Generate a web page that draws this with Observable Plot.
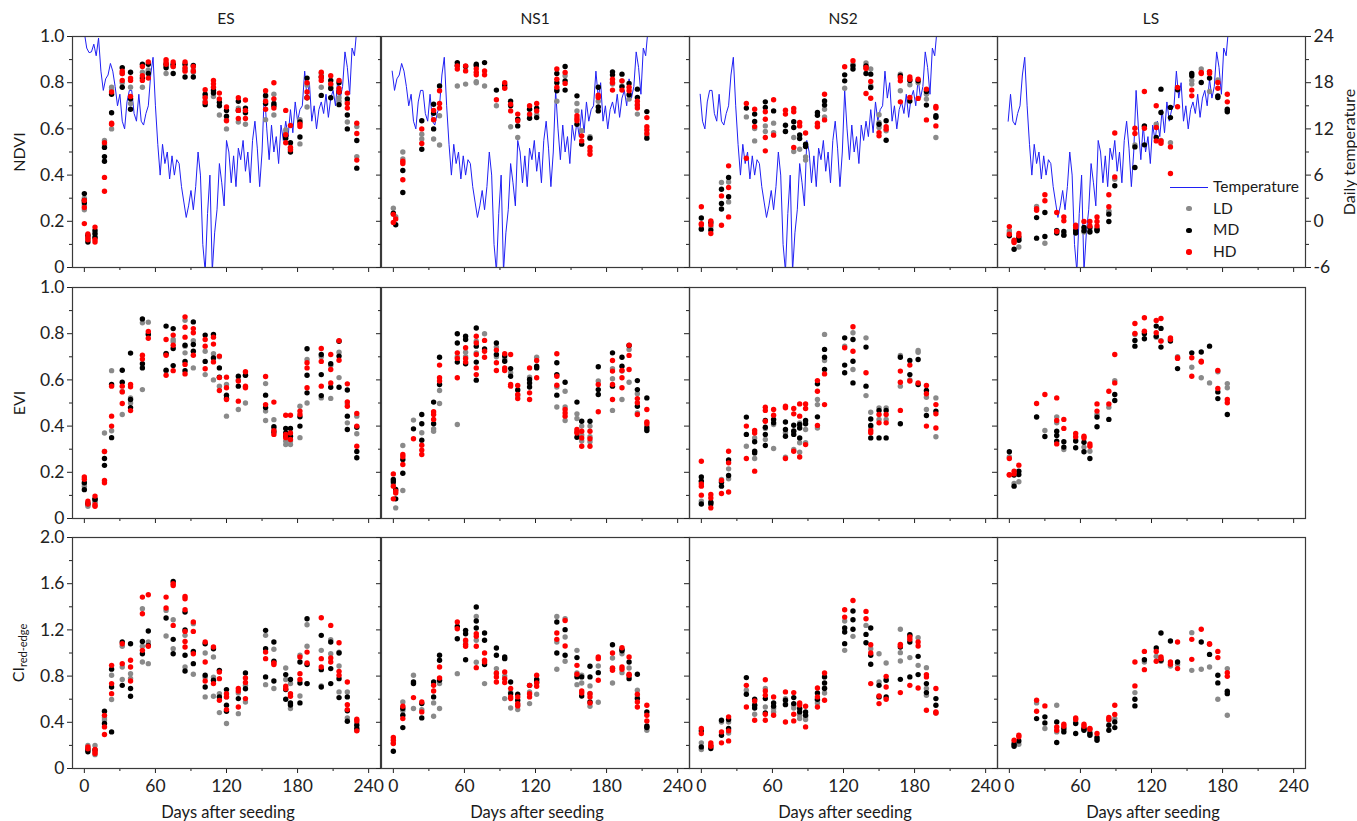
<!DOCTYPE html>
<html><head><meta charset="utf-8">
<script src="https://cdn.jsdelivr.net/npm/d3@7"></script>
<script src="https://cdn.jsdelivr.net/npm/@observablehq/plot@0.6"></script>
<style>
body{margin:0;background:#fff;font-family:Lato,"Open Sans",sans-serif;}
#wrap{position:relative;width:1357px;height:821px;overflow:hidden;background:#fff;}
.panel{position:absolute;width:408px;}
.lbl{position:absolute;color:#1a1a1a;white-space:nowrap;line-height:1;}
.lbl sub{font-size:11px;vertical-align:-3px;}
</style></head><body><div id="wrap"></div>
<script>
// ---------- data ----------
const SEASON_NAMES = ["ES","NS1","NS2","LS"];
const SEASON_OFFSET = [0,15,31,45]; // seeding offset (days) relative to ES for shared weather record
const DENSITY = ["LD","MD","HD"];

// daily temperature (°C) on ES calendar, every 2 days from day 0
const TEMP = [24.5,22.5,21.9,22.0,23.0,21.5,23.8,19.5,17.0,18.5,
19.0,20.5,19.5,17.5,15.0,16.5,13.0,12.0,15.5,17.0,
17.0,14.0,13.0,16.5,13.0,12.5,14.0,15.0,19.0,21.3,
15.0,10.0,6.0,10.0,7.5,9.0,5.5,8.5,6.0,8.0,
7.5,4.5,2.5,0.5,2.0,4.0,1.5,4.5,9.0,6.0,
-3.0,-6.5,1.0,6.0,-6.5,-1.5,1.5,7.5,5.0,2.0,
10.5,9.0,5.0,8.5,4.5,9.5,8.0,10.5,6.5,9.0,
5.0,10.5,13.0,9.5,4.5,9.0,17.0,12.0,8.0,12.5,
9.0,11.0,7.5,12.5,10.5,13.0,11.0,14.5,11.5,15.5,
13.0,14.5,15.0,19.5,16.0,18.0,13.0,15.0,12.0,14.5,
15.5,14.0,16.5,13.5,16.0,17.0,15.0,18.5,16.0,17.5,
22.0,20.0,16.5,22.5,21.5,25.0];
const TEMP_TICKS = [-6,0,6,12,18,24];

// ----- ES -----
const ES_days = [0,3,9,17,23,32,39,49,54,69,75,85,92,102,109,114,120,130,136,153,160,170,174,182,188,200,208,215,222,230];
const ES_NDVI_LD = [[0.30,0.25,0.27],[0.12,0.13],[0.15,0.13],[0.55,0.53],[0.78,0.60,0.77],[0.84,0.80],[0.78,0.71],[0.845,0.78],[0.85,0.855],[0.87,0.84],[0.87,0.875],[0.86,0.855],[0.845,0.855],[0.72,0.74],[0.74,0.77],[0.725,0.66],[0.60,0.64],[0.69,0.63],[0.62,0.68],[0.74,0.64],[0.75,0.66],[0.595,0.58],[0.52,0.51],[0.64,0.535],[0.79,0.695],[0.84,0.78],[0.79,0.78],[0.735,0.72],[0.72,0.63],[0.61,0.48]];
const ES_NDVI_MD = [[0.32,0.28,0.29],[0.11,0.14],[0.16,0.145,0.13],[0.52,0.48,0.46],[0.75,0.67],[0.865,0.78],[0.845,0.73,0.685],[0.88,0.82],[0.88,0.84],[0.88,0.865],[0.88,0.84],[0.88,0.825],[0.875,0.825],[0.75,0.705],[0.765,0.755],[0.70,0.715],[0.68,0.655],[0.72,0.68],[0.69,0.67],[0.745,0.71],[0.71,0.70],[0.57,0.56],[0.54,0.50],[0.63,0.565],[0.82,0.735],[0.825,0.745],[0.81,0.775,0.735],[0.80,0.76,0.705],[0.73,0.66,0.60],[0.55,0.43]];
const ES_NDVI_HD = [[0.29,0.26,0.19],[0.13,0.145,0.12],[0.175,0.12,0.11],[0.54,0.39,0.33],[0.76,0.625,0.62],[0.85,0.84,0.81],[0.82,0.81,0.74],[0.87,0.83,0.81],[0.89,0.82],[0.90,0.89,0.88],[0.89,0.87],[0.89,0.865,0.85],[0.87,0.85],[0.77,0.735,0.715],[0.81,0.795,0.78],[0.755,0.73],[0.695,0.635],[0.735,0.68,0.645],[0.725,0.68,0.645],[0.765,0.72,0.685],[0.80,0.73,0.69],[0.68,0.575,0.54],[0.615,0.52,0.51],[0.62,0.61],[0.80,0.76,0.735],[0.845,0.825,0.81],[0.83,0.795],[0.81,0.775,0.76],[0.755,0.71,0.69],[0.625,0.58,0.465]];
const ES_EVI_LD = [[0.15,0.14],[0.053,0.06],[0.075,0.07],[0.37,0.29],[0.64,0.38],[0.45,0.55],[0.522,0.50],[0.847,0.558],[0.85,0.80],[0.715,0.64],[0.775,0.765],[0.858,0.746,0.717],[0.77,0.652],[0.724,0.623],[0.713,0.60],[0.573,0.70],[0.58,0.443],[0.60,0.472],[0.50,0.62],[0.584,0.465,0.424],[0.428,0.39],[0.335,0.32],[0.32,0.335],[0.486,0.35],[0.688,0.50],[0.70,0.522],[0.662,0.52],[0.61,0.72],[0.497,0.414],[0.443,0.367]];
const ES_EVI_MD = [[0.155,0.125],[0.065],[0.082,0.085],[0.26,0.23],[0.58,0.35],[0.642,0.59],[0.716,0.515,0.48],[0.864,0.67,0.652],[0.797],[0.833,0.713,0.642],[0.822,0.736,0.662],[0.75,0.68,0.64],[0.851,0.753,0.724],[0.794,0.68],[0.797,0.695],[0.652,0.612],[0.534,0.52],[0.616,0.573],[0.62],[0.534,0.48],[0.397,0.375],[0.39,0.37,0.355],[0.39,0.356],[0.44,0.40],[0.735,0.62,0.544],[0.71,0.623,0.532],[0.67,0.568],[0.767,0.703,0.568],[0.556,0.443,0.385],[0.395,0.29,0.263]];
const ES_EVI_HD = [[0.18,0.17],[0.075,0.063],[0.097,0.06,0.053],[0.29,0.165,0.155],[0.573,0.443,0.40],[0.573,0.548,0.498],[0.58,0.57,0.467],[0.707,0.69],[0.81,0.78],[0.775,0.707,0.62],[0.794,0.75,0.64],[0.873,0.828,0.785,0.667,0.626],[0.822,0.804,0.707],[0.775,0.746,0.648],[0.785,0.755,0.678],[0.703,0.61,0.554],[0.612,0.566,0.515],[0.595,0.508],[0.635,0.573,0.566],[0.615,0.493],[0.504,0.38,0.364],[0.447,0.364,0.35],[0.447,0.37,0.342],[0.465,0.45],[0.674,0.652,0.566],[0.736,0.68,0.573],[0.71,0.645,0.587],[0.77,0.685],[0.583,0.505,0.486],[0.455,0.40,0.313]];
const ES_CI_LD = [[],[0.20,0.18],[0.20,0.12],[0.42,0.44],[0.807,0.597],[1.058,0.879,0.77],[0.82,0.78],[1.383,1.058,0.922],[1.095,0.908],[1.369,1.147],[1.288,1.037],[1.153,0.879],[1.254,0.816],[1.0,0.79,0.62],[0.965,0.79,0.625],[0.648,0.484],[0.62,0.39],[0.654,0.475],[0.72,0.576],[1.153,0.726],[1.032,0.692],[0.87,0.77],[0.735,0.519],[0.98,0.628],[1.245,1.058,0.735],[1.023,0.715],[1.115,0.994],[1.008,0.888,0.663],[0.663,0.438],[0.395,0.33]];
const ES_CI_MD = [[],[0.16,0.144],[0.16],[0.496,0.39],[0.86,0.706,0.317],[1.095,0.72],[1.08,0.692,0.625],[1.10,0.994],[1.19,1.066],[1.303],[1.62,1.118,0.994],[1.354,1.20,0.98,0.844],[1.014,0.908],[1.08,0.807,0.706],[1.037,0.764],[0.85,0.62],[0.683,0.548,0.496],[0.605],[0.827,0.69],[1.196,1.037,0.793],[1.095,0.928,0.758],[0.813,0.683,0.60],[0.77,0.568,0.55],[0.922,0.74,0.568],[1.297,0.90,0.735],[1.153,0.856,0.706],[1.095,0.865,0.735],[1.0,0.778,0.614],[0.62,0.499,0.409],[0.375,0.346]];
const ES_CI_HD = [[],[0.187,0.17],[0.164,0.144,0.13],[0.46,0.36,0.294],[0.893,0.735,0.648],[1.08,0.908],[0.937,0.879,0.758],[1.484,1.34,1.023],[1.504,1.058],[1.484,1.389],[1.60,1.585,1.239],[1.49,1.47,1.375,1.187,1.10,1.052],[1.268,1.187,0.994],[1.095,0.922,0.758],[1.052,0.735],[0.836,0.778,0.59],[0.648,0.62,0.51],[0.692,0.671,0.533],[0.784,0.744,0.605],[1.008,0.951],[0.913,0.90],[0.712,0.69],[0.648,0.625],[0.965,0.821,0.77],[1.008,0.913],[1.305,0.951,0.879],[1.239,0.957,0.922],[1.089,0.841,0.807],[0.749,0.553,0.51],[0.427,0.412,0.326]];

// ----- NS1 -----
const NS1_days = [0,2,8,17,24,34,39,54,61,70,77,87,94,99,105,115,121,138,145,155,159,166,173,185,193,199,206,214];
const NS1_NDVI_LD = [[0.257],[0.22],[0.50,0.47],[],[0.577,0.556],[0.556,0.64],[0.657,0.53],[0.786],[0.794],[0.804,0.80],[0.786],[0.70],[0.78],[0.609],[0.563],[0.66],[0.66],[0.72,0.77],[0.83],[0.71,0.678],[0.592],[0.566],[0.72],[0.794,0.80],[0.808,0.786],[0.729],[0.664,0.70],[0.57]];
const NS1_NDVI_MD = [[0.235],[0.185],[0.42,0.325],[],[0.635,0.512],[0.707,0.668,0.60],[0.786],[0.887,0.875],[0.87],[0.88,0.873],[0.887],[0.768],[0.79],[0.72,0.70],[0.642,0.613],[0.685,0.646],[0.69,0.649],[0.84,0.80,0.765],[0.87,0.808,0.768],[0.743,0.62],[0.534],[0.56],[0.78,0.695,0.678],[0.847,0.834],[0.837,0.782],[0.797,0.748],[0.772,0.736],[0.675,0.56]];
const NS1_NDVI_HD = [[0.23,0.195],[0.21],[0.46,0.45,0.38],[],[0.60,0.537],[0.68,0.64],[0.765,0.71,0.69],[0.873,0.859],[0.873,0.851],[0.86,0.845,0.834],[0.851,0.834],[0.726],[0.80,0.776],[0.707,0.678],[0.664,0.635],[0.70,0.664],[0.71,0.678],[0.859,0.815,0.78],[0.844,0.797],[0.657,0.635,0.645],[0.57,0.548],[0.52,0.505,0.49],[0.746,0.736],[0.815,0.80,0.768],[0.808,0.768],[0.78,0.765],[0.72,0.705,0.69],[0.649,0.609,0.595,0.58]];
const NS1_EVI_LD = [[0.15],[0.046],[0.316,0.121],[0.426],[0.371],[0.388,0.378],[0.554,0.498],[0.407,0.70],[0.72,0.70],[0.768,0.717],[0.80],[0.742,0.70],[0.69],[0.631],[0.53],[0.612],[0.698],[0.569,0.483],[0.551,0.483,0.424],[0.453,0.433],[0.40,0.361,0.335],[0.40,0.354,0.332],[0.595],[0.648,0.605,0.468],[0.638,0.515],[0.732,0.59],[0.54,0.457],[0.40]];
const NS1_EVI_MD = [[0.169,0.159],[0.126,0.085],[0.255,0.196],[0.388],[0.45,0.41,0.339],[0.504,0.41],[0.698,0.58],[0.80,0.76,0.677],[0.789,0.775,0.67],[0.825,0.746,0.677,0.599],[0.734],[0.76,0.71],[0.703,0.681],[0.649,0.616],[0.556],[0.602,0.587,0.569],[0.659,0.652],[0.674,0.623,0.534],[0.59],[0.504,0.352],[0.421],[0.421],[0.657,0.558,0.537],[0.717,0.573],[0.698,0.659],[0.749],[0.597,0.558,0.486],[0.522,0.392,0.381]];
const NS1_EVI_HD = [[0.193,0.14,0.085],[0.118,0.11],[0.277,0.267,0.234],[0.345],[0.317,0.296,0.277],[0.462,0.45,0.429],[0.664,0.609,0.595],[0.717,0.693,0.609],[0.739,0.693,0.677],[0.789,0.76,0.71,0.652,0.623],[0.771,0.724,0.698],[0.729,0.674,0.641],[0.713,0.652,0.641],[0.71,0.58,0.573],[0.576,0.537,0.519],[0.652,0.544,0.515],[0.684,0.609],[0.713,0.616,0.577],[0.472,0.457,0.443],[0.385,0.375,0.37],[0.378,0.349,0.313],[0.378,0.345,0.313],[0.58,0.462],[0.684,0.638,0.58,0.515],[0.641,0.609,0.566],[0.75,0.706,0.645],[0.519,0.501,0.45],[0.472,0.418,0.41]];
const NS1_CI_LD = [[0.22],[],[0.576,0.50],[0.807,0.519],[0.51],[0.568,0.452],[0.735,0.519],[0.821],[1.095],[1.317,1.11,0.92],[0.735],[0.865,0.82],[0.605,0.80],[0.524,0.66],[0.51,0.55],[0.663,0.562],[0.643,0.77],[1.317,1.095,0.859],[1.297,1.138,0.928],[1.023,0.827,0.726],[0.807,0.74],[0.715,0.65,0.539],[0.888,0.573],[0.957,0.74],[0.994,0.83],[0.87,0.80],[0.677,0.62],[0.331,0.36]];
const NS1_CI_MD = [[0.15],[],[0.519,0.461,0.354],[0.749,0.735],[0.562,0.438],[0.749,0.62],[0.98,0.937,0.764],[1.23,1.124],[1.196,1.167,0.942],[1.398,1.277,1.216],[1.173,1.11,0.9],[1.043,0.98],[0.965,0.951],[0.749,0.648],[0.643,0.591],[0.72],[0.77,0.75],[1.268,1.0],[1.202,0.98],[0.96,0.793],[0.793,0.628],[0.885,0.793,0.576],[0.83],[1.072,0.865],[1.029,1.02],[0.922,0.778],[0.816,0.605],[0.49,0.369,0.354]];
const NS1_CI_HD = [[0.268,0.245,0.216],[],[0.539,0.432],[0.614],[0.576,0.49],[0.72,0.671],[0.879,0.784],[1.268,1.21],[1.11,1.075,1.058],[1.167,1.144,1.058,0.873],[1.0,0.937,0.922],[0.827,0.793,0.749],[0.836,0.778,0.744],[0.692,0.62,0.605],[0.62,0.562,0.542],[0.72,0.648,0.62],[0.807,0.741,0.712],[1.173,1.118],[1.282,1.061],[0.893,0.816],[0.671,0.654],[0.648,0.62,0.568],[0.965,0.951,0.764],[1.0,0.87,0.85],[1.046,0.879,0.859],[0.965,0.816,0.807],[0.643,0.576,0.533],[0.548,0.461,0.412]];

// ----- NS2 -----
const NS2_days = [0,8,17,23,38,45,54,61,71,78,83,88,98,104,121,128,139,143,150,156,168,176,183,190,198];
const NS2_NDVI_LD = [[0.17],[0.175],[0.368],[0.284,0.37],[0.652],[0.602,0.548],[0.613,0.589],[0.625,0.584],[0.59],[0.563,0.502],[0.512],[0.479,0.465],[0.613],[0.685,0.652],[0.776],[0.88],[0.885],[0.859,0.786],[0.661,0.628,0.606],[0.592],[0.837,0.765],[0.791],[0.80],[0.75,0.729],[0.563]];
const NS2_NDVI_MD = [[0.214,0.166],[0.195,0.162],[0.339,0.277,0.253],[0.39,0.306],[0.69],[0.664,0.632],[0.717,0.693],[0.678],[0.616,0.589],[0.631,0.606],[0.574,0.558],[0.534,0.524],[0.671,0.659],[0.721,0.703],[0.834,0.808],[0.873,0.859],[0.873,0.84],[0.837,0.779],[0.62],[0.635,0.551],[0.83],[0.81,0.721],[0.808],[0.762,0.703],[0.657,0.65]];
const NS2_NDVI_HD = [[0.263,0.19,0.185],[0.202,0.185,0.147],[0.31,0.183],[0.44,0.346,0.219],[0.71,0.473],[0.685,0.61],[0.674,0.642,0.563,0.505],[0.726,0.573],[0.681,0.664],[0.688,0.674,0.52],[0.628,0.613],[0.582],[0.625,0.609],[0.75,0.639],[0.869],[0.895],[0.866,0.861,0.753],[0.805,0.733],[0.584,0.57],[0.609,0.599],[0.823,0.808,0.717],[0.825,0.815,0.736],[0.815,0.732],[0.772,0.639],[0.697,0.69,0.613]];
const NS2_EVI_LD = [[0.075,0.16],[0.07],[0.169],[0.215,0.172],[0.313],[0.349,0.26],[0.39,0.342],[0.407,0.303],[0.371,0.265],[0.299,0.38],[0.414,0.328,0.287],[0.385,0.328],[0.515,0.493,0.392],[0.797,0.684],[0.746],[0.804,0.645],[0.782,0.532],[0.46,0.395],[0.479,0.429],[0.479,0.429],[0.706,0.573],[0.60],[0.727,0.72],[0.525,0.472],[0.522,0.354]];
const NS2_EVI_MD = [[0.18,0.162,0.063],[0.071,0.063],[0.157,0.14],[0.253,0.186],[0.439,0.364],[0.332,0.291,0.284],[0.424,0.395,0.364,0.316],[0.429,0.414],[0.418,0.385,0.356],[0.404,0.378,0.364],[0.407,0.392,0.349],[0.424,0.41],[0.583,0.44],[0.732,0.698,0.645],[0.782,0.664,0.631],[0.775,0.681,0.587],[0.742,0.573],[0.431,0.403,0.349],[0.468,0.349],[0.468,0.349],[0.698,0.41],[0.684,0.623],[0.688,0.58],[0.554,0.446],[0.465]];
const NS2_EVI_HD = [[0.248,0.15,0.14,0.101],[0.104,0.089,0.046],[0.165,0.108],[0.291,0.241,0.115],[0.40,0.26],[0.381,0.37,0.205],[0.482,0.468,0.421],[0.472,0.447],[0.486,0.479,0.26],[0.476,0.453,0.291],[0.496,0.443,0.266],[0.496,0.476,0.32],[0.597,0.551,0.403],[0.626,0.493],[0.739],[0.83,0.724],[0.631],[0.381,0.371],[0.45,0.414],[0.45,0.414],[0.638,0.59,0.468],[0.664,0.595],[0.587],[0.576,0.54,0.40],[0.493,0.453,0.392]];
const NS2_CI_LD = [[0.222,0.164],[0.19],[0.403],[0.403,0.308],[0.677],[0.47,0.55],[0.692,0.533],[0.519,0.49],[0.605,0.56],[0.524,0.55],[0.461,0.432],[0.447,0.424],[0.568,0.59],[0.654,0.70],[1.277,1.023],[1.144],[1.239],[1.037],[0.994,0.749],[0.913,0.77],[1.205,1.003,0.931],[1.15,0.96],[1.133,0.893],[0.873,0.692,0.634],[0.481]];
const NS2_CI_MD = [[0.326,0.187],[0.173],[0.418,0.288],[0.424,0.346],[0.787,0.643],[0.599,0.548,0.524],[0.605,0.481],[0.568,0.54],[0.591,0.553],[0.614,0.562],[0.519,0.49],[0.49,0.461],[0.654,0.599],[0.793,0.741,0.692],[1.216,1.182,1.081],[1.363,1.288,1.205],[1.161,1.089],[1.216,0.98,0.902],[0.72,0.62],[0.764,0.62],[1.052,0.772],[1.159,1.095,0.793],[0.971,0.813],[0.735,0.657],[0.605,0.548]];
const NS2_CI_HD = [[0.346,0.303],[0.222,0.202,0.193],[0.317,0.222],[0.447,0.326,0.239],[0.72,0.533],[0.585,0.418],[0.769,0.671,0.634,0.47,0.418],[0.62,0.461],[0.663,0.403],[0.657,0.47,0.412],[0.568,0.55],[0.539,0.36],[0.697,0.62,0.533],[0.827,0.591],[1.375,1.311],[1.455],[1.36,1.297],[1.072,1.0,0.735],[0.628,0.562],[0.798,0.706,0.599],[1.075,1.06,0.657],[1.138,1.118,0.72],[1.095,1.061,0.697],[0.813,0.793,0.504],[0.692,0.49,0.48]];

// ----- LS -----
const LS_days = [0,4,8,23,30,40,46,56,63,68,74,84,89,106,114,124,128,136,142,154,162,169,176,184];
const LS_NDVI_LD = [[0.159,0.15],[0.113],[0.089,0.12],[0.264],[0.105],[0.16],[0.147,0.14],[0.173],[0.154],[0.159],[0.169],[0.242,0.245],[0.382],[0.53],[0.61],[0.62],[0.55],[0.54],[0.775],[0.794,0.81],[0.859],[0.848,0.762],[0.812],[0.68]];
const LS_NDVI_MD = [[0.137],[0.079],[0.13,0.118],[0.216,0.127],[0.238,0.134],[0.159,0.149],[0.156,0.14],[0.159,0.149],[0.173,0.159],[0.173,0.154],[0.159,0.165],[0.231,0.199],[0.354],[0.522,0.433],[0.613,0.531],[0.563],[0.772,0.671],[0.693,0.649],[0.769],[0.84,0.83],[0.801],[0.82],[0.743,0.736],[0.685,0.674]];
const LS_NDVI_HD = [[0.177,0.144],[0.118,0.108],[0.147,0.137],[0.248,0.255],[0.315,0.289],[0.238,0.156],[0.219,0.202],[0.183,0.175],[0.199],[0.199,0.18],[0.219,0.199,0.18],[0.315,0.263],[0.582,0.392],[0.603,0.58],[0.762,0.603],[0.70,0.606,0.548],[0.538,0.548],[0.522,0.407],[0.779,0.696],[0.768,0.743],[0.844,0.84],[0.848,0.84],[0.801,0.776],[0.75,0.717]];
const LS_EVI_LD = [[0.266],[0.152],[0.159],[0.438],[0.381],[0.44,0.414],[0.299],[0.34],[0.309],[0.291],[0.45],[0.482],[0.597],[0.797],[0.808],[0.785],[0.77],[0.775],[0.70],[0.655],[0.609],[0.587],[0.635],[0.584,0.566]];
const LS_EVI_MD = [[0.289],[0.188,0.14],[0.205,0.19],[0.44],[0.355],[0.378,0.359,0.335],[0.332,0.309],[0.335,0.306],[0.33,0.289],[0.26],[0.439,0.397],[0.429],[0.537,0.511],[0.771,0.746],[0.80,0.778],[0.833,0.789],[0.823,0.742],[0.768],[0.649],[0.717],[0.721],[0.746],[0.548,0.519],[0.45]];
const LS_EVI_HD = [[0.26,0.19,0.188],[0.205,0.193],[0.231],[0.498],[0.537],[0.522,0.424,0.323],[0.429,0.39],[0.368,0.354],[0.356,0.349],[0.323,0.313],[0.496,0.465],[0.551,0.496],[0.71,0.587],[0.844,0.801],[0.869,0.811],[0.857,0.804],[0.866,0.768],[0.782,0.775],[0.696,0.693],[0.696,0.616],[0.681,0.677],[],[0.641,0.563],[0.515,0.501]];
const LS_CI_LD = [[],[0.222],[0.21],[0.568],[0.346],[0.548,0.317],[0.33],[0.40],[0.34],[0.317],[0.274],[0.418],[0.432],[0.657],[0.922],[0.971],[0.928],[0.888],[0.90],[1.176,0.85],[0.859],[0.879],[0.599],[0.865,0.461]];
const LS_CI_MD = [[],[0.21,0.193],[0.239],[0.432],[0.447,0.395],[0.403,0.225],[0.346,0.317],[0.389,0.303],[0.346,0.331],[0.303,0.288],[0.265,0.245],[0.375,0.331],[0.403,0.354],[0.599,0.542],[0.942],[1.043],[1.173,0.937],[1.104],[0.922],[],[1.095],[0.988],[0.807,0.741],[0.669,0.648]];
const LS_CI_HD = [[],[0.245],[0.288,0.274],[0.591,0.496],[0.542],[0.36,0.331],[0.383,0.366],[0.438,0.424],[0.383,0.366],[0.346,0.34],[0.303],[0.441,0.424],[0.548,0.467],[0.922,0.715],[1.014,0.856],[1.014,0.928],[0.965,0.951],[0.922,0.902],[1.095,0.865],[1.118,0.945],[1.205],[1.081,1.075],[1.014,0.96],[0.83,0.798]];

// ---------- assembly ----------
const SEASON_DAYS = [ES_days, NS1_days, NS2_days, LS_days];
const SEASON_DATA = [
  {NDVI:[ES_NDVI_LD,ES_NDVI_MD,ES_NDVI_HD], EVI:[ES_EVI_LD,ES_EVI_MD,ES_EVI_HD], CI:[ES_CI_LD,ES_CI_MD,ES_CI_HD]},
  {NDVI:[NS1_NDVI_LD,NS1_NDVI_MD,NS1_NDVI_HD], EVI:[NS1_EVI_LD,NS1_EVI_MD,NS1_EVI_HD], CI:[NS1_CI_LD,NS1_CI_MD,NS1_CI_HD]},
  {NDVI:[NS2_NDVI_LD,NS2_NDVI_MD,NS2_NDVI_HD], EVI:[NS2_EVI_LD,NS2_EVI_MD,NS2_EVI_HD], CI:[NS2_CI_LD,NS2_CI_MD,NS2_CI_HD]},
  {NDVI:[LS_NDVI_LD,LS_NDVI_MD,LS_NDVI_HD], EVI:[LS_EVI_LD,LS_EVI_MD,LS_EVI_HD], CI:[LS_CI_LD,LS_CI_MD,LS_CI_HD]}
];
const INDICES = ["NDVI","EVI","CI"];
const Y_DOMAIN = {NDVI:[0,1], EVI:[0,1], CI:[0,2]};
const Y_MAJOR = {NDVI:[0,0.2,0.4,0.6,0.8,1], EVI:[0,0.2,0.4,0.6,0.8,1], CI:[0,0.4,0.8,1.2,1.6,2]};
const Y_MINOR = {NDVI:[0.1,0.3,0.5,0.7,0.9], EVI:[0.1,0.3,0.5,0.7,0.9], CI:[0.2,0.6,1.0,1.4,1.8]};
const X_MAJOR = [0,60,120,180,240], X_MINOR = [30,90,150,210];
const COLORS = ["#8a8a8a","#000000","#ff0000"];
const TEMP_COLOR = "#2020f4";

const COL_X = [72,381,689,997], ROW_Y = [36,287,537];
const PW = 308, PH = 231, ML = 50, MR = 50, MT = 10, MB = 40;
const wrap = document.getElementById("wrap");
const yFmt = v => v === 0 ? "0" : v.toFixed(1);
const tToY = t => (t + 6) / 30;

function makePanel(col, row) {
  const idx = INDICES[row];
  const days = SEASON_DAYS[col];
  const groups = SEASON_DATA[col][idx];
  const pts = [];
  days.forEach((d, i) => groups.forEach((arr, g) => (arr[i] || []).forEach(v => pts.push({day: d, v, g}))));
  const marks = [
    Plot.axisX({ticks: X_MAJOR, tickSize: 5, tickPadding: 6, tickFormat: row === 2 ? (d => String(d)) : (() => ""), label: null}),
    Plot.axisX({ticks: X_MINOR, tickSize: 3, tickFormat: () => "", label: null}),
    Plot.axisY({ticks: Y_MAJOR[idx], tickSize: 5, tickPadding: 3, tickFormat: col === 0 ? yFmt : (() => ""), label: null}),
    Plot.axisY({ticks: Y_MINOR[idx], tickSize: 3, tickFormat: () => "", label: null})
  ];
  if (row === 0) {
    const off = SEASON_OFFSET[col];
    const temp = TEMP.map((t, i) => ({day: i * 2 - off, y: tToY(t)})).filter(d => d.day >= -1);
    marks.push(Plot.line(temp, {x: "day", y: "y", stroke: TEMP_COLOR, strokeWidth: 1, clip: true}));
    if (col === 3) {
      marks.push(Plot.axisY({anchor: "right", ticks: TEMP_TICKS.map(tToY), tickSize: 5, tickPadding: 3, tickFormat: v => String(Math.round(v * 30 - 6)), label: null}));
      marks.push(Plot.axisY({anchor: "right", ticks: [-3,3,9,15,21].map(tToY), tickSize: 3, tickFormat: () => "", label: null}));
    }
  }
  [0,1,2].forEach(g => marks.push(Plot.dot(pts.filter(p => p.g === g), {x: "day", y: "v", r: 2.7, fill: COLORS[g], stroke: "none"})));
  marks.push(Plot.frame({stroke: "#3a3a3a", strokeWidth: 1.2}));
  const svg = Plot.plot({
    width: PW + ML + MR, height: PH + MT + MB,
    marginLeft: ML, marginRight: MR, marginTop: MT, marginBottom: MB,
    x: {domain: [-10, 250]},
    y: {domain: Y_DOMAIN[idx]},
    style: {background: "transparent", overflow: "visible", fontFamily: "Lato, sans-serif", fontSize: "17.5px", color: "#222"},
    marks
  });
  const div = document.createElement("div");
  div.className = "panel";
  div.style.left = (COL_X[col] - ML) + "px";
  div.style.top = (ROW_Y[row] - MT) + "px";
  div.appendChild(svg);
  wrap.appendChild(div);
}
for (let r = 0; r < 3; r++) for (let c = 0; c < 4; c++) makePanel(c, r);

function label(html, x, y, size, rot) {
  const el = document.createElement("div");
  el.className = "lbl";
  el.innerHTML = html;
  el.style.left = x + "px"; el.style.top = y + "px"; el.style.fontSize = size + "px";
  el.style.transform = "translate(-50%,-50%)" + (rot ? " rotate(-90deg)" : "");
  wrap.appendChild(el);
}
SEASON_NAMES.forEach((n, c) => label(n, COL_X[c] + PW / 2, 19, 15.5));
SEASON_NAMES.forEach((n, c) => label("Days after seeding", COL_X[c] + PW / 2 + 2, 812, 16.5));
label("NDVI", 19, ROW_Y[0] + PH / 2, 16, true);
label("EVI", 19, ROW_Y[1] + PH / 2, 16, true);
label("CI<sub>red-edge</sub>", 19, ROW_Y[2] + PH / 2, 16, true);
label("Daily temperature", 1349, ROW_Y[0] + PH / 2, 16, true);

// legend
const LEG = [{name: "Temperature", type: "line", color: TEMP_COLOR}].concat(DENSITY.map((d, i) => ({name: d, type: "dot", color: COLORS[i]})));
LEG.forEach((e, i) => {
  const cy = 187 + i * 21.7;
  const sym = document.createElement("div");
  sym.style.position = "absolute";
  if (e.type === "line") {
    Object.assign(sym.style, {left: "1170px", top: (cy - 0.5) + "px", width: "38px", height: "0px", borderTop: "1.2px solid " + e.color});
  } else {
    Object.assign(sym.style, {left: (1189 - 2.7) + "px", top: (cy - 2.7) + "px", width: "5.4px", height: "5.4px", borderRadius: "50%", background: e.color});
  }
  wrap.appendChild(sym);
  const t = document.createElement("div");
  t.className = "lbl";
  t.textContent = e.name;
  Object.assign(t.style, {left: "1213px", top: cy + "px", fontSize: "15.5px", transform: "translateY(-50%)"});
  wrap.appendChild(t);
});
</script></body></html>
